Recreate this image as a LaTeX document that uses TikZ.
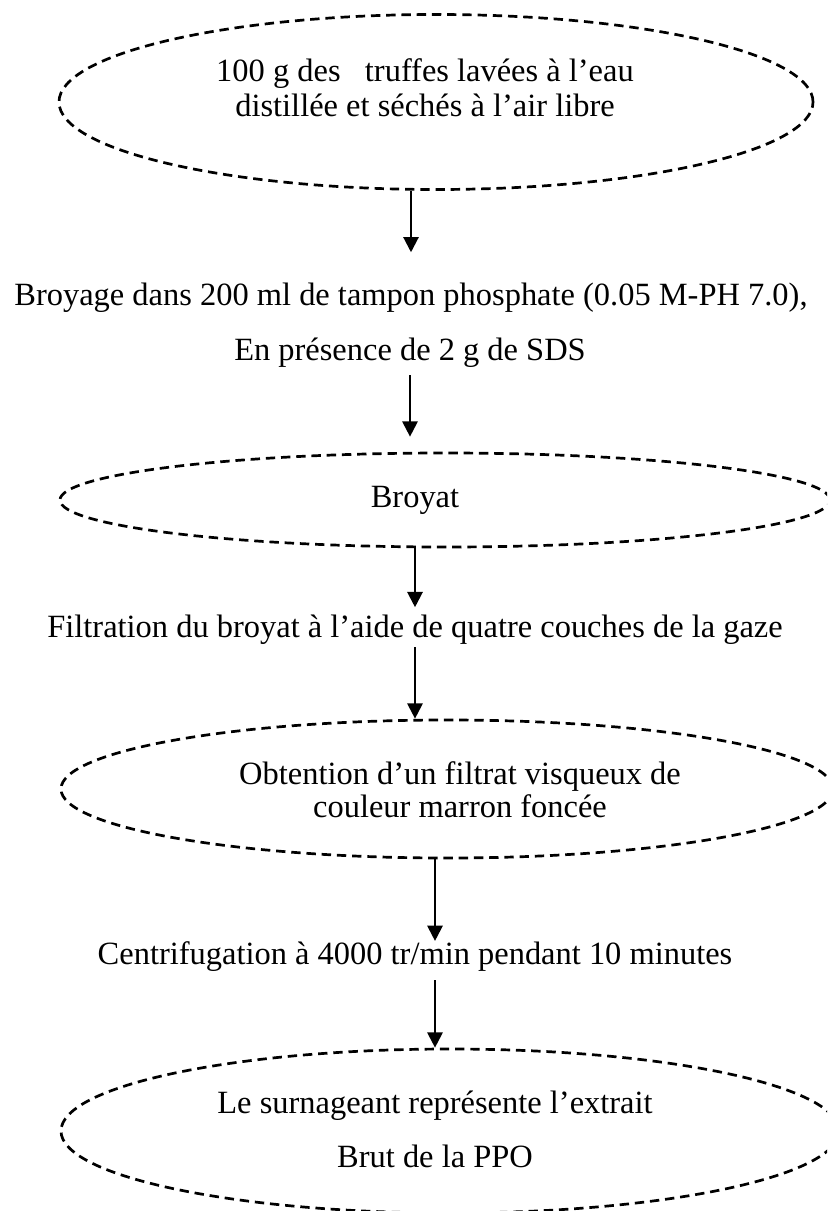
\documentclass[tikz,border=0pt]{standalone}
\usepackage{fontspec}
\setmainfont{Liberation Serif}
\usetikzlibrary{arrows.meta,shapes.geometric}

\begin{document}
\begin{tikzpicture}[x=0.03cm,y=-0.03cm,>={Triangle[width=13pt,length=13pt]},
  font=\fontsize{27.7}{33}\selectfont,
  oval/.style={draw,ellipse,dash pattern=on 8pt off 5pt,line width=2.3pt,inner sep=0pt},
  txt/.style={inner sep=0pt,anchor=base},
  arr/.style={->,line width=1.8pt}]
\clip (0,0) rectangle (827,1211);
% ovals
\node[oval,minimum width=22.62cm,minimum height=5.25cm] (A) at (436,102) {};
\node[oval,minimum width=23.1cm,minimum height=2.82cm] (B) at (445,500) {};
\node[oval,minimum width=23.16cm,minimum height=4.14cm] (C) at (447,789) {};
\node[oval,minimum width=23.34cm,minimum height=4.92cm] (D) at (450,1131) {};
% texts
\node[txt] (A1) at (425,82) {100 g des\ \ \ truffes lavées à l’eau};
\node[txt] (A2) at (425,117) {distillée et séchés à l’air libre};
\node[txt] (S1) at (411,305) {Broyage dans 200 ml de tampon phosphate (0.05 M-PH 7.0),};
\node[txt] (S2) at (410,360) {En présence de 2 g de SDS};
\node[txt] (B1) at (415,507) {Broyat};
\node[txt] (F1) at (415,637) {Filtration du broyat à l’aide de quatre couches de la gaze};
\node[txt] (C1) at (460,784) {Obtention d’un filtrat visqueux de};
\node[txt] (C2) at (460,817) {couleur marron foncée};
\node[txt] (G1) at (415,964) {Centrifugation à 4000 tr/min pendant 10 minutes};
\node[txt] (D1) at (435,1113) {Le surnageant représente l’extrait};
\node[txt] (D2) at (435,1167) {Brut de la PPO};
% arrows
\draw[arr,shorten >=0.9cm] (A.south -| S1) -- (S1.north);
\draw[arr,shorten <=0.24cm,shorten >=0.45cm] (S2.south) -- (S2.south |- B.north);
\draw[arr,shorten >=0.21cm] (B.south -| F1) -- (F1.north);
\draw[arr,shorten <=0.09cm] (F1.south) -- (F1.south |- C.north);
\draw[arr] (C.south -| D1) -- (D1 |- G1.north);
\draw[arr,shorten <=0.27cm] (G1.south -| D1) -- (D1 |- D.north);
\end{tikzpicture}
\end{document}
